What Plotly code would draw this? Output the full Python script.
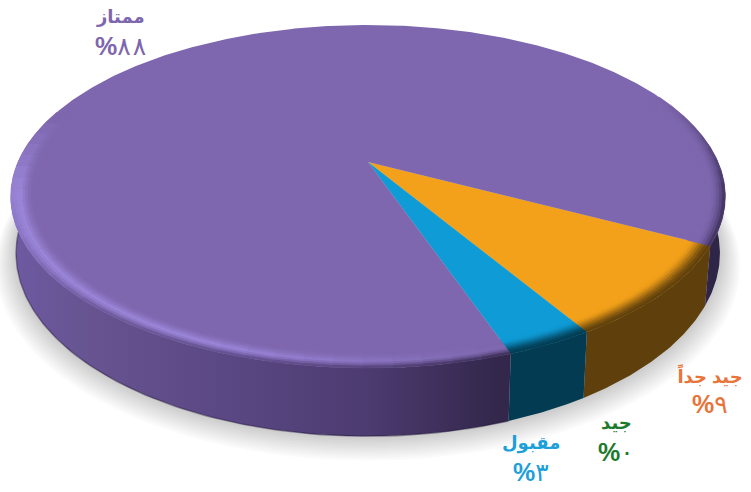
import numpy as np
import plotly.graph_objects as go

# ---------- data ----------
categories = ["جيد جداً", "جيد", "مقبول", "ممتاز"]
values = [8.7, 0, 3.3, 88]
arabic_digits = ["٩", "٠", "٣", "٨٨"]
label_colors = ["#e8743a", "#1c7a2c", "#1d9fd9", "#7d66ae"]
top_colors = ["#f3a11a", "#1c7a2c", "#0f9bd6", "#7e67ae"]
wall_colors = ["#5f400c", "#0e3d16", "#033c52", "#32274d"]
label_x = [710, 616, 531, 120]
label_y = [375, 423, 443, 17]
LINE_GAP = 29

# ---------- view of the tilted disc ----------
W, H = 751, 492
CX, CY = 368, 162
A, B, K = 350, 164.6, 0.201
DEPTH = 54.5
LOWER = 0.985
START = 27.5


def proj(theta, r=1.0, low=False):
    t = np.radians(theta)
    X, Y = r * np.cos(t), r * np.sin(t)
    s = 1 / (1 - K * Y)
    if low:
        return CX + LOWER * A * X * s, CY + B * Y * s + DEPTH * s
    return CX + A * X * s, CY + B * Y * s


def mix(c1, c2, f):
    f = float(np.clip(f, 0, 1))
    a = [int(c1[i:i + 2], 16) for i in (1, 3, 5)]
    b = [int(c2[i:i + 2], 16) for i in (1, 3, 5)]
    return "#%02x%02x%02x" % tuple(round(p + (q - p) * f) for p, q in zip(a, b))


def poly(x, y, color, lw=0):
    return go.Scatter(x=list(x), y=list(y), mode="lines", fill="toself", fillcolor=color,
                      line=dict(width=lw, color=color), hoverinfo="skip", showlegend=False)


fig = go.Figure()

# soft shadow under the disc
ang = np.linspace(0, 360, 181)
for i in range(10, 0, -1):
    sx, sy = proj(ang, 1 + i * 0.0055, low=True)
    fig.add_trace(poly(sx, sy + i * 0.9, "rgba(0,0,0,0.02)"))

# slice angle spans
spans, a0 = [], START
for v in values:
    a1 = a0 + v / sum(values) * 360
    spans.append((a0, a1))
    a0 = a1

GRAD_POS = [0, 0.12, 0.3, 0.5, 0.68, 1]
GRAD_COL = ["#6d5aa2", "#66538f", "#5a4884", "#4c3b70", "#33274b", "#2f2547"]
PURPLE_GRAD = [[p, c] for p, c in zip(GRAD_POS, GRAD_COL)]
GRAD_START, GRAD_STOP = 10, 727


def wall_purple(theta):
    x = proj(theta, low=True)[0]
    f = (x - GRAD_START) / (GRAD_STOP - GRAD_START)
    k = int(np.clip(np.searchsorted(GRAD_POS, f) - 1, 0, len(GRAD_POS) - 2))
    return mix(GRAD_COL[k], GRAD_COL[k + 1], (f - GRAD_POS[k]) / (GRAD_POS[k + 1] - GRAD_POS[k]))


# walls
for i, (a0, a1) in enumerate(spans):
    if a1 <= a0:
        continue
    pieces = [(a0, a1)]
    if a1 > 360:
        pieces = [(a0, 190), (350, a1)]
    for p0, p1 in pieces:
        th = np.linspace(p0, p1, max(int(p1 - p0) * 2, 8))
        tx, ty = proj(th)
        bx, by = proj(th[::-1], low=True)
        xs, ys = np.r_[tx, bx], np.r_[ty, by]
        if a1 > 360:
            fig.add_trace(go.Scatter(
                x=xs, y=ys, mode="lines", fill="toself", line=dict(width=0),
                fillgradient=dict(type="horizontal", colorscale=PURPLE_GRAD,
                                  start=GRAD_START, stop=GRAD_STOP),
                hoverinfo="skip", showlegend=False))
        else:
            fig.add_trace(poly(xs, ys, wall_colors[i]))

# darker lip along the bottom of the purple wall
th = np.linspace(spans[3][0], 175, 120)
lx, ly = proj(th, low=True)
fig.add_trace(go.Scatter(x=lx, y=ly, mode="lines", line=dict(width=1.5, color="rgba(35,25,60,0.45)"),
                         hoverinfo="skip", showlegend=False))

# top face
for i, (a0, a1) in enumerate(spans):
    if a1 <= a0:
        continue
    th = np.linspace(a0, a1, max(int(a1 - a0) * 2, 8))
    tx, ty = proj(th)
    fig.add_trace(poly(np.r_[CX, tx, CX], np.r_[CY, ty, CY], top_colors[i]))

# bevel at the rim of the top face
HIGHLIGHT = "#9a85d8"
radii = np.linspace(0.94, 1.0, 9)
STEP = 4


def bevel_colour(i, mid, t):
    if i != 3:
        f = np.clip((t - 0.1) / 0.9, 0, 1)
        return mix(top_colors[i], wall_colors[i], f * f * (3 - 2 * f))
    signed = mid - 360 if mid > 300 else mid
    if signed < 72:                    # right-hand side: only a thin dark edge
        w = np.clip((signed + 25) / 35, 0.0, 1.0)
        f = np.clip((t - 0.3) / 0.7, 0, 1) ** 2 * w
        return mix(top_colors[3], "#3a2d58", f)
    light = np.clip((signed - 72) / 38, 0, 1)
    fade = np.clip((197 - signed) / 27, 0, 1)
    peak = mix(top_colors[3], HIGHLIGHT, light * fade)
    if t < 0.55:
        return mix(top_colors[3], peak, (t / 0.55) ** 1.5)
    # toward the far left the highlight runs to the edge instead of dropping into the wall
    outer = mix(wall_purple(mid), peak, np.clip((signed - 130) / 45, 0, 1))
    return mix(peak, outer, ((t - 0.55) / 0.45) ** 1.5)


for i, (a0, a1) in enumerate(spans):
    if a1 <= a0:
        continue
    edges = np.arange(a0, a1 + STEP, STEP)
    edges = np.r_[edges[edges < a1], a1]
    for p0, p1 in zip(edges[:-1], edges[1:]):
        mid = ((p0 + p1) / 2) % 360
        if 197 < mid < 335:
            continue
        for j in range(len(radii) - 1):
            t = (j + 0.5) / (len(radii) - 1)
            col = bevel_colour(i, mid, t)
            th = np.linspace(p0, p1, 4)
            ox, oy = proj(th, radii[j + 1])
            ix, iy = proj(th[::-1], radii[j])
            fig.add_trace(poly(np.r_[ox, ix], np.r_[oy, iy], col, lw=0.7))

# labels
FONT = "Liberation Sans, DejaVu Sans, sans-serif"
for name, dig, col, lx, ly in zip(categories, arabic_digits, label_colors, label_x, label_y):
    pct = "<b>%</b>" + "\u200a".join(dig)
    fig.add_annotation(x=lx, y=ly, text="<b>%s</b>" % name, showarrow=False,
                       font=dict(family=FONT, size=18, color=col),
                       xanchor="center", yanchor="middle")
    fig.add_annotation(x=lx, y=ly + LINE_GAP, text=pct, showarrow=False,
                       font=dict(family=FONT, size=25, color=col),
                       xanchor="center", yanchor="middle")

fig.update_xaxes(range=[0, W], visible=False, fixedrange=True)
fig.update_yaxes(range=[H, 0], visible=False, fixedrange=True)
fig.update_layout(width=W, height=H, margin=dict(l=0, r=0, t=0, b=0),
                  paper_bgcolor="white", plot_bgcolor="white", showlegend=False)
fig.write_html("out.html", config={"displayModeBar": False},
               post_script="document.body.style.margin='0';document.documentElement.style.overflow='hidden';")
